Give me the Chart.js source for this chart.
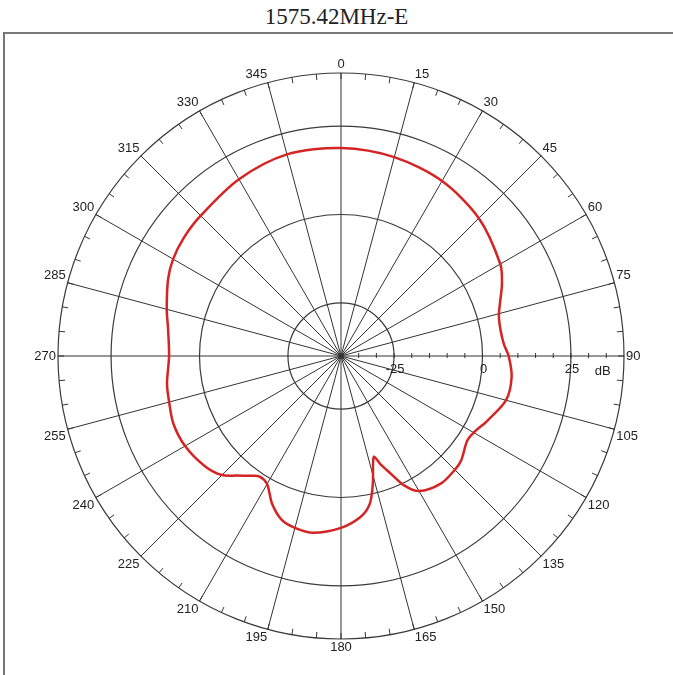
<!DOCTYPE html>
<html>
<head>
<meta charset="utf-8">
<script src="https://cdn.jsdelivr.net/npm/chart.js@4/dist/chart.umd.min.js"></script>
<style>
  html, body { margin: 0; padding: 0; background: #fff; }
  #wrap { position: relative; width: 673px; height: 675px; overflow: hidden; }
  #title { position: absolute; left: 0; top: 4px; width: 673px; text-align: center;
           font-family: "Liberation Serif", "Times New Roman", serif; font-size: 23px; color: #222; }
  #frame { position: absolute; left: 3px; top: 32px; width: 720px; height: 720px;
           border: 2px solid #777; box-sizing: border-box; }
  #chart { position: absolute; left: 0; top: 0; }
</style>
</head>
<body>
<div id="wrap">
  <div id="title">1575.42MHz-E</div>
  <div id="frame"></div>
  <canvas id="chart" width="673" height="675"></canvas>
</div>
<script>
// angle labels drawn around the rim
var angleLabels = [0, 15, 30, 45, 60, 75, 90, 105, 120, 135, 150, 165,
                   180, 195, 210, 225, 240, 255, 270, 285, 300, 315, 330, 345];

// radial rings (dB) and their labels
var ringValues = [-25, 0, 25];
var ringLabels = ["-25", "0", "25"];

// measured pattern: angle (deg) and gain (dB)
var patternAngles = [0, 15, 30, 45, 60, 66, 72, 76, 81, 86, 90, 97, 105, 114, 120, 124,
                     131, 135, 142, 150, 154, 157, 160, 162, 166, 169, 173, 180, 189, 195,
                     200, 205, 210, 214, 217, 221, 225, 231, 240, 248, 255, 261, 270, 279,
                     285, 294, 300, 307, 315, 330, 345];
var patternGain = [18.8, 18.2, 17.1, 15.1, 12.0, 9.8, 7.2, 6.0, 5.7, 6.2, 7.4, 8.6, 8.3, 5.2, 3.3, 3.0,
                   5.0, 5.5, 5.8, 4.1, 0.7, -3.8, -7.5, -10.0, -2.8, 2.6, 5.8, 8.6, 10.6, 10.3,
                   9.2, 6.1, 1.8, 1.1, 2.4, 4.8, 7.6, 9.5, 10.9, 11.1, 10.3, 9.8, 8.6, 9.5,
                   11.0, 13.5, 14.8, 15.6, 16.1, 17.7, 19.0];

// one category per degree so the samples sit at their true angles
var degrees = [];
for (var d = 0; d < 360; d++) degrees.push(d);
var series = degrees.map(function () { return null; });
patternAngles.forEach(function (a, i) { series[a] = patternGain[i]; });

var labelFont = '13px "Liberation Sans", Arial, sans-serif';

var polarDecor = {
  id: 'polarDecor',
  beforeDatasetsDraw: function (chart) {
    var s = chart.scales.r;
    var ctx = chart.ctx;
    ctx.save();
    ctx.strokeStyle = '#333';
    ctx.lineWidth = 1;
    // small ticks on the rim every 5 degrees
    for (var i = 0; i < 360; i += 5) {
      var a = s.getPointPosition(i, s.drawingArea);
      var b = s.getPointPosition(i, s.drawingArea - 6);
      ctx.beginPath(); ctx.moveTo(a.x, a.y); ctx.lineTo(b.x, b.y); ctx.stroke();
    }
    // minor ticks along the 90 degree axis every 5 dB
    for (var v = -35; v < 40; v += 5) {
      var p = s.getPointPosition(90, s.getDistanceFromCenterForValue(v));
      ctx.beginPath(); ctx.moveTo(p.x, p.y - 3); ctx.lineTo(p.x, p.y + 2); ctx.stroke();
    }
    ctx.restore();
  },
  afterDraw: function (chart) {
    var s = chart.scales.r;
    var ctx = chart.ctx;
    ctx.save();
    ctx.font = labelFont;
    ctx.fillStyle = '#222';
    angleLabels.forEach(function (a) {
      var p = s.getPointPosition(a, s.drawingArea + 2);
      ctx.textAlign = (a === 0 || a === 180) ? 'center' : (a < 180 ? 'left' : 'right');
      ctx.textBaseline = (a === 90 || a === 270) ? 'middle' : ((a < 90 || a > 270) ? 'bottom' : 'top');
      ctx.fillText(String(a), p.x, p.y);
    });
    ctx.textAlign = 'center';
    ctx.textBaseline = 'middle';
    ringValues.forEach(function (v, i) {
      var p = s.getPointPosition(90, s.getDistanceFromCenterForValue(v));
      ctx.fillText(ringLabels[i], p.x + 1, p.y + 13);
    });
    var q = s.getPointPosition(90, s.getDistanceFromCenterForValue(34));
    ctx.fillText('dB', q.x, q.y + 15);
    ctx.restore();
  }
};

new Chart(document.getElementById('chart'), {
  type: 'radar',
  data: {
    labels: degrees,
    datasets: [{
      data: series,
      borderColor: '#d42424',
      borderWidth: 2.5,
      backgroundColor: 'transparent',
      fill: false,
      pointRadius: 0,
      pointHoverRadius: 0,
      tension: 0.3,
      spanGaps: true
    }]
  },
  options: {
    responsive: false,
    animation: false,
    layout: { padding: { left: 58, top: 73, right: 49, bottom: 36 } },
    plugins: { legend: { display: false }, tooltip: { enabled: false }, title: { display: false } },
    scales: {
      r: {
        min: -40,
        max: 40,
        startAngle: 0,
        ticks: { display: false, stepSize: 5 },
        pointLabels: { display: false },
        grid: {
          circular: true,
          color: '#3a3a3a',
          lineWidth: function (c) {
            return c.tick && [-25, 0, 25, 40].indexOf(c.tick.value) >= 0 ? 1.2 : 0;
          }
        },
        angleLines: {
          display: true,
          color: '#333',
          lineWidth: function (c) { return c.index % 15 === 0 ? 1 : 0; }
        }
      }
    }
  },
  plugins: [polarDecor]
});
</script>
</body>
</html>
